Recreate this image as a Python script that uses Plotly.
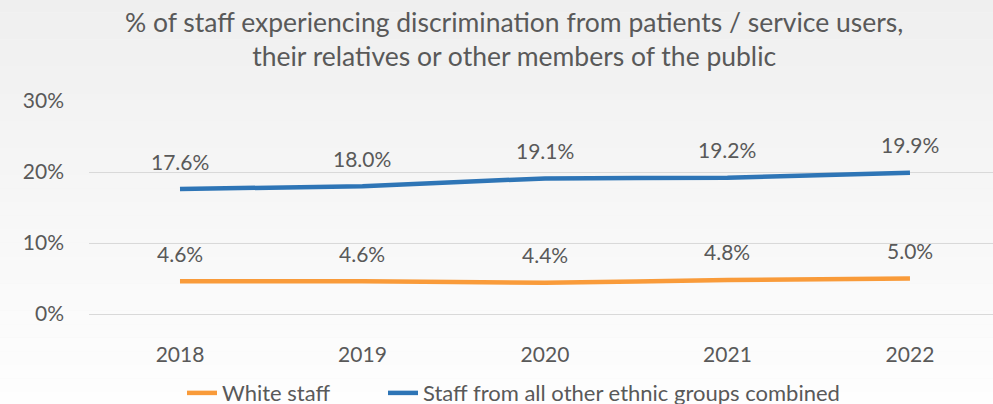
import plotly.graph_objects as go

years = ["2018", "2019", "2020", "2021", "2022"]
white_staff = [0.046, 0.046, 0.044, 0.048, 0.050]
other_staff = [0.176, 0.180, 0.191, 0.192, 0.199]
series_names = ["White staff", "Staff from all other ethnic groups combined"]
title_lines = ["% of staff experiencing discrimination from patients / service users,",
               "their relatives or other members of the public"]

_ORANGE, _BLUE, _TEXT, _GRID = "#F99B3A", "#2E75B6", "#595959", "#D9D9D9"
_FONT = "Lato, 'Open Sans', sans-serif"

fig = go.Figure()
fig.add_scatter(x=years, y=white_staff, name=series_names[0], mode="lines", legend="legend",
                line=dict(color=_ORANGE, width=4.5, shape="spline", smoothing=0.3))
fig.add_scatter(x=years, y=other_staff, name=series_names[1], mode="lines", legend="legend2",
                line=dict(color=_BLUE, width=4.5, shape="spline", smoothing=0.3))

# data labels sit a fixed distance above each point, like Excel's "above" labels.
# x is the category index: numeric-looking category names get read as indices otherwise.
for series in (white_staff, other_staff):
    for i, value in enumerate(series):
        fig.add_annotation(x=i, y=value, text=f"{value * 100:.1f}%", showarrow=False,
                           yshift=28, font=dict(size=21, color=_TEXT))

fig.add_annotation(text="<br>".join(title_lines), xref="paper", yref="paper", x=0.47, y=1.291,
                   xanchor="center", yanchor="middle", showarrow=False,
                   font=dict(size=26.5, color=_TEXT))

# soft vertical gradient behind everything (grey at top, near white at bottom)
bands = 30
y_top, y_bot = 1.48, -0.43
for i in range(bands):
    shade = int(round(239 + (254 - 239) * i / (bands - 1)))
    fig.add_shape(type="rect", xref="paper", yref="paper", layer="below", line_width=0,
                  x0=-0.2, x1=1.2, y0=y_top - (i + 1) * (y_top - y_bot) / bands,
                  y1=y_top - i * (y_top - y_bot) / bands,
                  fillcolor=f"rgb({shade},{shade},{shade})")

# legends anchored to the container so they don't push the bottom margin up
_legend = dict(orientation="h", xanchor="left", yref="container", y=0.027, yanchor="middle",
               font=dict(size=22, color=_TEXT), bgcolor="rgba(0,0,0,0)")
fig.update_layout(
    width=993, height=404,
    paper_bgcolor="#F4F4F4", plot_bgcolor="rgba(0,0,0,0)",
    font=dict(family=_FONT, color=_TEXT),
    margin=dict(t=101, l=89, r=0, b=90, autoexpand=False),
    showlegend=True,
    legend=dict(_legend, x=0.1029),
    legend2=dict(_legend, x=0.3252),
    xaxis=dict(type="category", range=[-0.4986, 4.455], showgrid=False, showline=True,
               linecolor=_GRID, linewidth=1, ticks="", ticklabelstandoff=22,
               tickfont=dict(size=21, color=_TEXT)),
    yaxis=dict(range=[0, 0.30], dtick=0.10, tickformat=".0%", showgrid=True, gridcolor=_GRID,
               gridwidth=1, zeroline=False, ticks="", ticklabelstandoff=24,
               tickfont=dict(size=21, color=_TEXT)),
)

fig.write_html("out.html", config={"displayModeBar": False},
               post_script="document.body.style.margin='0';document.body.style.overflow='hidden';")
